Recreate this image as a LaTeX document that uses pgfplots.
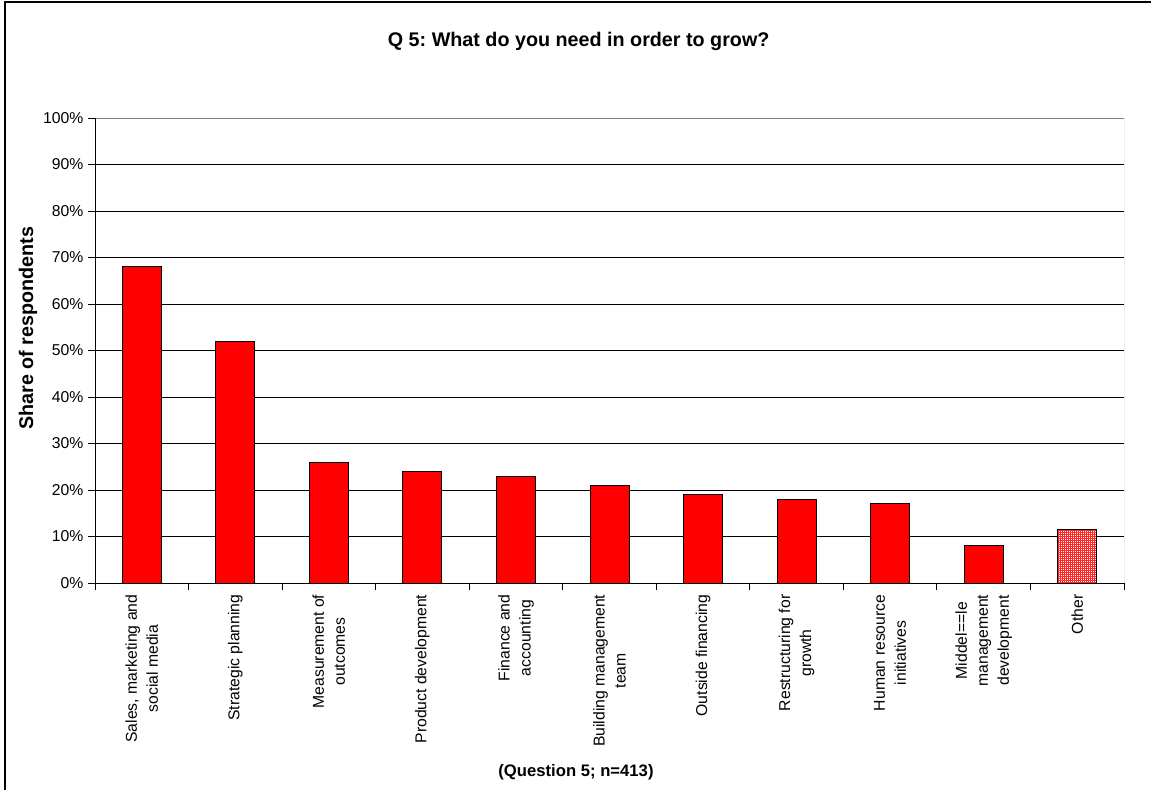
\documentclass[border=0pt]{standalone}
\usepackage{pgfplots}
\pgfplotsset{compat=1.18}
\usepackage{fontspec}
\setmainfont{Liberation Sans}
\usetikzlibrary{patterns}
\pgfdeclarepatternformonly{finegrid}{\pgfpoint{-0.1pt}{-0.1pt}}{\pgfpoint{1.6pt}{1.6pt}}{\pgfpoint{1.5pt}{1.5pt}}{%
  \pgfsetlinewidth{0.3pt}%
  \pgfpathmoveto{\pgfpointorigin}\pgfpathlineto{\pgfpoint{1.5pt}{0pt}}%
  \pgfpathmoveto{\pgfpointorigin}\pgfpathlineto{\pgfpoint{0pt}{1.5pt}}%
  \pgfusepath{stroke}}
\frenchspacing
\begin{document}
\begin{tikzpicture}
\useasboundingbox (0,0) rectangle (863.25pt,592.5pt);
\fill[white] (0,0) rectangle (863.25pt,592.5pt);
\draw[line width=1.5pt] (3.75pt,0) -- (3.75pt,591pt) -- (863.25pt,591pt);
\begin{axis}[
  at={(71.25pt,155.25pt)}, anchor=south west,
  scale only axis, width=771.75pt, height=348.75pt,
  xmin=-0.5, xmax=10.5, ymin=0, ymax=100,
  axis line style={draw=none},
  xtick={-0.5,0.5,...,10.5},
  x tick label as interval=true,
  xticklabels={{Sales, marketing and\\social media},{Strategic planning},{Measurement of\\outcomes},{Product development},{Finance and\\accounting},{Building management\\team},{Outside financing},{Restructuring for\\growth},{Human resource\\initiatives},{Middel==le\\management\\development},{Other}},
  ytick={0,10,...,100},
  yticklabel={\pgfmathprintnumber{\tick}\%},
  /pgf/number format/assume math mode=true,
  tick pos=left, tick align=outside,
  major tick length=5.25pt,
  tick style={black, line width=0.75pt},
  ymajorgrids=true,
  y grid style={black, line width=0.75pt},
  tick label style={font=\fontsize{11.8}{15.75}\selectfont},
  xticklabel style={rotate=90, anchor=east, align=center},
]
\addplot[ybar, bar shift=0pt, bar width=29.25pt, fill=red, draw=black, line width=0.75pt]
  coordinates {(0,68) (1,52) (2,26) (3,24) (4,23) (5,21) (6,19) (7,18) (8,17) (9,8)};
\addplot[ybar, bar shift=0pt, bar width=29.25pt, draw=black, line width=0.75pt, fill=white, postaction={pattern=finegrid, pattern color=red!85}]
  coordinates {(10,11.4)};
\draw[gray, line width=0.75pt] (rel axis cs:0,1) -- (rel axis cs:1,1) -- (rel axis cs:1,0);
\draw[black, line width=0.75pt] (rel axis cs:0,1) -- (rel axis cs:0,0) -- (rel axis cs:1,0);
\end{axis}
\node[font=\bfseries\fontsize{14.8}{18}\selectfont] at (434pt,561.75pt) {Q 5: What do you need in order to grow?};
\node[font=\bfseries\fontsize{14.8}{18}\selectfont, rotate=90] at (21pt,346.5pt) {Share of respondents};
\node[font=\bfseries\fontsize{12.5}{15}\selectfont] at (432pt,13.5pt) {(Question 5; n=413)};
\end{tikzpicture}
\end{document}
